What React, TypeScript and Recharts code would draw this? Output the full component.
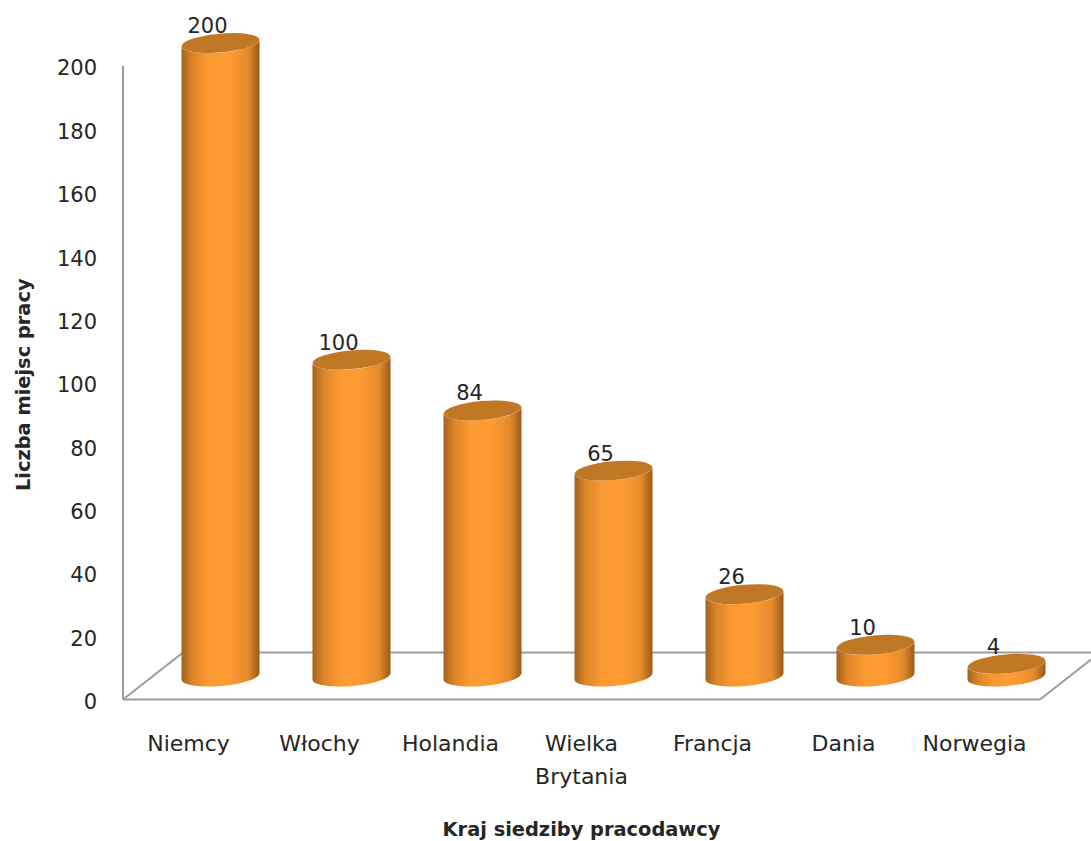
import { BarChart, Bar, XAxis, YAxis, Label, LabelList, usePlotArea } from "recharts";

const countries = ["Niemcy", "Włochy", "Holandia", "Wielka Brytania", "Francja", "Dania", "Norwegia"];
const jobs = [200, 100, 84, 65, 26, 10, 4];
const yTicks = [0, 20, 40, 60, 80, 100, 120, 140, 160, 180, 200];

const data = countries.map((name, i) => ({ name, jobs: jobs[i] }));

const FONT = "'DejaVu Sans', sans-serif";
const TEXT = "#262626";
const GREY = "#9c9c9c";
// cylinders sit on the floor, up and to the right of the category slot
const SHIFT_X = 31.5;
const SHIFT_Y = -23;
const RY = 9.4;
const TILT = -5;

// floor of the 3D box, behind the bars
function Floor() {
  const plot = usePlotArea();
  if (!plot) return null;
  const left = plot.x;
  const right = plot.x + plot.width;
  const bottom = plot.y + plot.height;
  return (
    <g stroke={GREY} strokeWidth={2} fill="none">
      <line x1={left} y1={bottom} x2={left + 60} y2={bottom - 47} />
      <line x1={left + 60} y1={bottom - 47} x2={1091} y2={bottom - 47} />
      <line x1={right} y1={bottom} x2={1091} y2={bottom - 40} />
    </g>
  );
}

function Cylinder(props: any) {
  const { x, y, width, height } = props;
  const rx = width / 2;
  const cx = x + rx + SHIFT_X;
  const top = y + SHIFT_Y;
  const bottom = y + height + SHIFT_Y;
  const lean = rx * Math.sin((-TILT * Math.PI) / 180);
  const lx = cx - rx;
  const rxEnd = cx + rx;
  const body = `M${lx},${top + lean} L${lx},${bottom + lean} A${rx},${RY} ${TILT} 0 0 ${rxEnd},${bottom - lean} L${rxEnd},${top - lean} A${rx},${RY} ${TILT} 0 1 ${lx},${top + lean} Z`;
  return (
    <g>
      <path d={body} fill="url(#cyl)" />
      <ellipse cx={cx} cy={top} rx={rx} ry={RY} fill="#c17825" transform={`rotate(${TILT} ${cx} ${top})`} />
    </g>
  );
}

function ValueLabel(props: any) {
  const { x, y, width, value } = props;
  return (
    <text x={x + width / 2 + SHIFT_X - 13} y={y + SHIFT_Y - 10} textAnchor="middle" fontFamily={FONT} fontSize={21} fill={TEXT}>
      {value}
    </text>
  );
}

function CountryTick(props: any) {
  const { x, y, payload } = props;
  const lines = String(payload.value).split(" ");
  return (
    <text textAnchor="middle" fontFamily={FONT} fontSize={22} fill={TEXT}>
      {lines.map((line, i) => (
        <tspan key={i} x={x} y={y + 43 + i * 33}>
          {line}
        </tspan>
      ))}
    </text>
  );
}

export default function App() {
  return (
    <div style={{ position: "absolute", left: 0, top: 0, width: 1091, height: 841, background: "#fff" }}>
      <BarChart
        width={1091}
        height={841}
        data={data}
        barSize={78}
        margin={{ top: 66, right: 51, bottom: 81.5, left: 63 }}
      >
        <defs>
          <linearGradient id="cyl" x1="0" y1="0" x2="1" y2="0">
            <stop offset="0%" stopColor="#a2611f" />
            <stop offset="14%" stopColor="#dd8529" />
            <stop offset="35%" stopColor="#fb9a32" />
            <stop offset="60%" stopColor="#ff9c33" />
            <stop offset="85%" stopColor="#e68b2c" />
            <stop offset="100%" stopColor="#9a5a1c" />
          </linearGradient>
        </defs>
        <Floor />
        <XAxis
          dataKey="name"
          height={60}
          interval={0}
          tickLine={false}
          axisLine={{ stroke: GREY, strokeWidth: 2 }}
          tick={<CountryTick />}
        >
          <Label
            value="Kraj siedziby pracodawcy"
            position="insideBottom"
            offset={-76}
            fontFamily={FONT}
            fontSize={19.4}
            fontWeight="bold"
            fill={TEXT}
          />
        </XAxis>
        <YAxis
          width={60}
          domain={[0, 200]}
          ticks={yTicks}
          tickSize={0}
          tickMargin={26}
          axisLine={{ stroke: GREY, strokeWidth: 2 }}
          tick={{ fontFamily: FONT, fontSize: 21, fill: TEXT, dy: 2 }}
        >
          <Label
            value="Liczba miejsc pracy"
            angle={-90}
            position="insideLeft"
            offset={-40}
            dy={2}
            style={{ textAnchor: "middle" }}
            fontFamily={FONT}
            fontSize={19.4}
            fontWeight="bold"
            fill={TEXT}
          />
        </YAxis>
        <Bar dataKey="jobs" isAnimationActive={false} shape={<Cylinder />}>
          <LabelList dataKey="jobs" content={<ValueLabel />} />
        </Bar>
      </BarChart>
    </div>
  );
}
